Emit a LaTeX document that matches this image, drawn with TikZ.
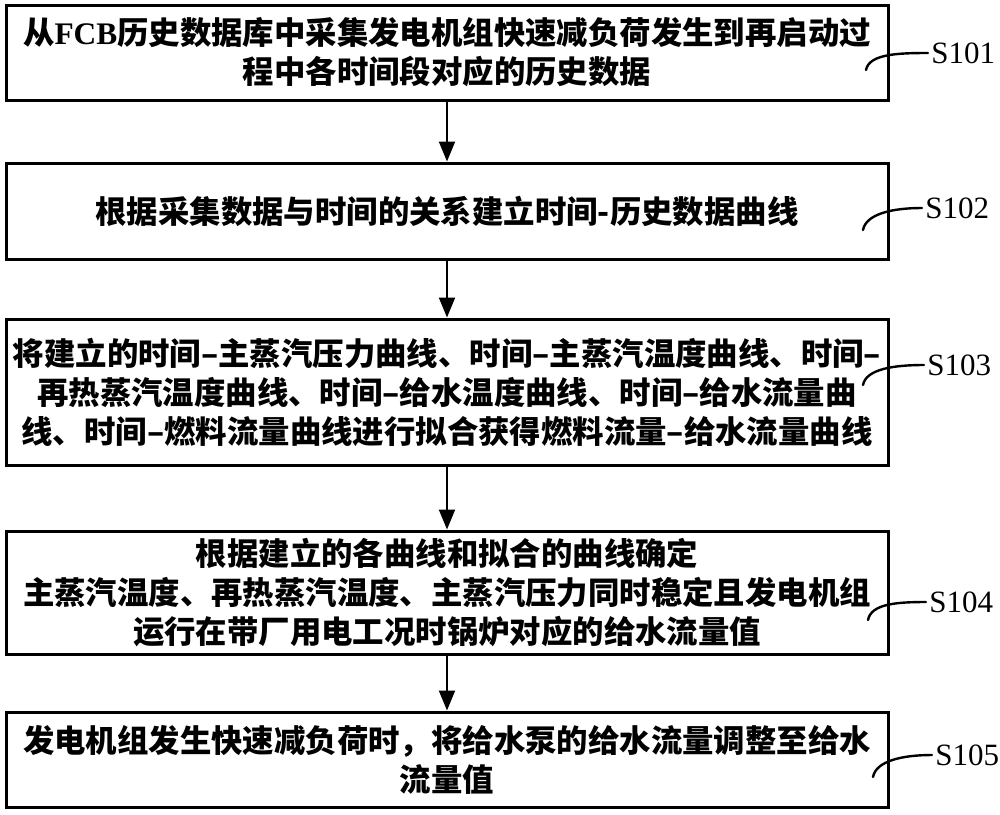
\documentclass[tikz,border=0pt]{standalone}
\usepackage{fontspec}
\setmainfont{Liberation Serif}
\newfontfamily\cjk{Noto Sans CJK SC}
\usetikzlibrary{arrows.meta,positioning,calc}
\tikzset{
	stepbox/.style={
		rectangle, draw=black, line width=1.5pt, fill=white,
		minimum width=441pt, inner sep=0pt,
		text width=436pt, align=center,
		font=\cjk\bfseries\fontsize{15.7}{19.5}\selectfont
	},
	%
	steplabel/.style={
		anchor=west, inner xsep=1.5pt, inner ysep=0pt,
		font=\fontsize{15.5}{18}\selectfont
	},
	%
	flow/.style={
		-{Triangle[length=10pt,width=8pt]}, line width=1pt
	},
	%
	tail/.style={
		line width=1.2pt, line cap=round
	}
}

\begin{document}
\begin{tikzpicture}[x=0.5pt, y=-0.5pt]
    \useasboundingbox (0,0) rectangle (1000,814);
    \node(B1)[stepbox, minimum height=47.5pt] at (447,52.5)
        {\fontsize{15.7}{21}\selectfont
         从{\rmfamily\bfseries FCB}历史数据库中采集发电机组快速减负荷发生到再启动过\\程中各时间段对应的历史数据};
    \node(B2)[stepbox, minimum height=48pt] at (447,211)
        {根据采集数据与时间的关系建立时间-历史数据曲线};
    \node(B3)[stepbox, minimum height=73pt] at (447,392)
        {将建立的时间–主蒸汽压力曲线、时间–主蒸汽温度曲线、时间–\\再热蒸汽温度曲线、时间–给水温度曲线、时间–给水流量曲\\线、时间–燃料流量曲线进行拟合获得燃料流量–给水流量曲线};
    \node(B4)[stepbox, minimum height=61.5pt] at (447,592.5)
        {根据建立的各曲线和拟合的曲线确定\\主蒸汽温度、再热蒸汽温度、主蒸汽压力同时稳定且发电机组\\运行在带厂用电工况时锅炉对应的给水流量值};
    \node(B5)[stepbox, minimum height=47.5pt] at (447,759.5)
        {发电机组发生快速减负荷时，将给水泵的给水流量调整至给水\\流量值};
    \draw[flow] (B1) -- (B2);
    \draw[flow] (B2) -- (B3);
    \draw[flow] (B3) -- (B4);
    \draw[flow] (B4) -- (B5);
    \node(L1)[steplabel] at (928,53){S101};
    \node(L2)[steplabel] at (922,208){S102};
    \node(L3)[steplabel] at (924,365){S103};
    \node(L4)[steplabel] at (926,602){S104};
    \node(L5)[steplabel] at (932,755){S105};
    \coordinate(T1) at (866,70);
    \coordinate(T2) at (863,230);
    \coordinate(T3) at (863,385);
    \coordinate(T4) at (868,620);
    \coordinate(T5) at (873,777);
    \foreach \i in {1,...,5}
        \draw[tail] (T\i) .. controls +(3,-16) and +(-30,0) .. (L\i.west);
\end{tikzpicture}
\end{document}
